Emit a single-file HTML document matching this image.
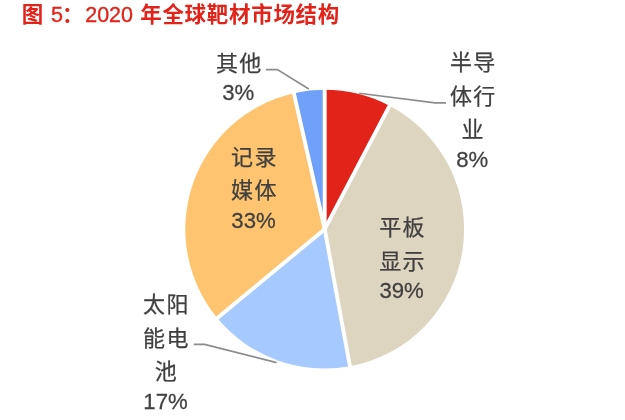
<!DOCTYPE html>
<html><head><meta charset="utf-8">
<style>
html,body{margin:0;padding:0;background:#fff;}
body{width:625px;height:420px;overflow:hidden;position:relative;font-family:"Liberation Sans","Noto Sans CJK SC",sans-serif;}
svg{position:absolute;left:0;top:0;}
.title .n{font-weight:normal;font-size:21.5px;-webkit-text-stroke:0.35px #E2231A;letter-spacing:0}
.title{position:absolute;left:0;top:1.2px;font-size:21.5px;font-weight:bold;color:#E2231A;white-space:nowrap;line-height:28px;letter-spacing:0}
.lbl{position:absolute;font-size:22px;color:#404040;text-align:center;line-height:33.4px;white-space:nowrap;transform:translateX(-50%);}
.lbl .c{font-size:22px;letter-spacing:1.4px;margin-right:-1.4px;position:relative;left:0.3px;top:0.2px;-webkit-text-stroke:0.25px #404040}
.lbl .d{position:relative;top:-3.7px;display:inline-block;transform:scaleY(1.035);transform-origin:50% 70%;-webkit-text-stroke:0.25px #404040;font-size:22.2px}
</style></head><body>
<div class="title"><span style="position:absolute;left:21.8px">图</span><span class="n" style="position:absolute;left:51px;top:-0.6px">5</span><span style="position:absolute;left:62px">：</span><span class="n" style="position:absolute;left:85.2px;top:-0.6px">2020</span><span style="position:absolute;left:140.2px;letter-spacing:0.7px">年全球靶材市场结构</span></div>
<svg width="625" height="420" viewBox="0 0 625 420">
<path d="M324.7,229.2 L324.70,89.80 A139.4,139.4 0 0 1 389.54,105.80 Z" fill="#E2231A"/>
<path d="M324.7,229.2 L389.54,105.80 A139.4,139.4 0 0 1 349.96,366.29 Z" fill="#DDD5BF"/>
<path d="M324.7,229.2 L349.96,366.29 A139.4,139.4 0 0 1 217.29,318.06 Z" fill="#A6CAFF"/>
<path d="M324.7,229.2 L217.29,318.06 A139.4,139.4 0 0 1 293.86,93.25 Z" fill="#FFC470"/>
<path d="M324.7,229.2 L293.86,93.25 A139.4,139.4 0 0 1 324.70,89.80 Z" fill="#70A1FA"/>
<line x1="324.7" y1="229.2" x2="324.70" y2="86.80" stroke="#fff" stroke-width="3.9" stroke-linecap="round"/>
<line x1="324.7" y1="229.2" x2="390.94" y2="103.14" stroke="#fff" stroke-width="3.9" stroke-linecap="round"/>
<line x1="324.7" y1="229.2" x2="350.50" y2="369.24" stroke="#fff" stroke-width="3.9" stroke-linecap="round"/>
<line x1="324.7" y1="229.2" x2="214.98" y2="319.97" stroke="#fff" stroke-width="3.9" stroke-linecap="round"/>
<line x1="324.7" y1="229.2" x2="293.20" y2="90.33" stroke="#fff" stroke-width="3.9" stroke-linecap="round"/>
<polyline points="265.9,69.6 277.4,69.6 308.8,89" fill="none" stroke="#8C8C8E" stroke-width="1.6"/>
<polyline points="359.2,93.2 435,102.9 446,102.9" fill="none" stroke="#8C8C8E" stroke-width="1.6"/>
<polyline points="193.8,344.4 204.6,344.4 276.6,362.6" fill="none" stroke="#8C8C8E" stroke-width="1.6"/>
</svg>
<div class="lbl" style="left:238.3px;top:46.4px"><span class="c">其他</span><br><span class="d">3%</span></div>
<div class="lbl" style="left:472.3px;top:46.3px"><span class="c">半导</span><br><span class="c">体行</span><br><span class="c">业</span><br><span class="d">8%</span></div>
<div class="lbl" style="left:253.5px;top:140.7px"><span class="c">记录</span><br><span class="c">媒体</span><br><span class="d">33%</span></div>
<div class="lbl" style="left:401.6px;top:211px"><span class="c">平板</span><br><span class="c">显示</span><br><span class="d">39%</span></div>
<div class="lbl" style="left:165.5px;top:288px"><span class="c">太阳</span><br><span class="c">能电</span><br><span class="c">池</span><br><span class="d">17%</span></div>
</body></html>
